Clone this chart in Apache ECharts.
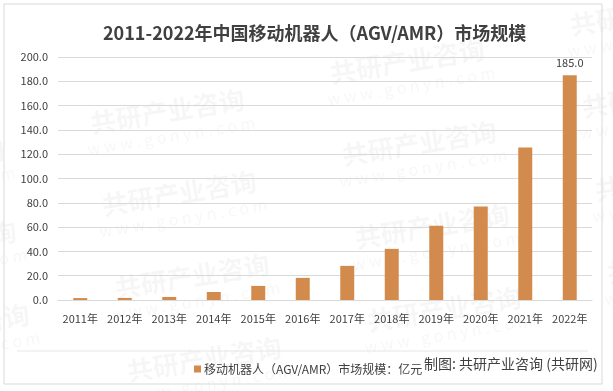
<!DOCTYPE html>
<html><head><meta charset="utf-8">
<script src="https://cdn.jsdelivr.net/npm/echarts@6/dist/echarts.min.js"></script>
<style>html,body{margin:0;padding:0;background:#fff}#c{width:613px;height:391px}</style>
</head><body><div id="c"></div>
<script>
const years = ['2011年','2012年','2013年','2014年','2015年','2016年','2017年','2018年','2019年','2020年','2021年','2022年'];
const marketSize = [1.6, 1.7, 2.5, 6.6, 11.6, 18.2, 28.1, 42.1, 61.2, 77.0, 125.5, 185.0];
const seriesName = '移动机器人（AGV/AMR）市场规模：亿元';
const titleText = '2011-2022年中国移动机器人（AGV/AMR）市场规模';
const sourceText = '制图: 共研产业咨询 (共研网)';
const watermarkText = '共研产业咨询';
const watermarkSub = 'w w w . g o n y n . c o m';

const font = '"Noto Sans CJK SC","Noto Sans",sans-serif';
const wmCenters = [[410,78],[422,160],[435,243],[447,326],[170,128],[182,210],[195,293],[207,376],[650,30],[662,112],[675,195],[687,278],[-70,178],[-58,260],[-45,343]];
const wm = [];
wmCenters.forEach(([x,y])=>{
  wm.push({type:'group',x:x,y:y,rotation:0.16,silent:true,z:-10,children:[
    {type:'text',style:{text:watermarkText,x:0,y:-4,align:'center',verticalAlign:'bottom',font:'bold 26px '+font,fill:'rgba(0,0,0,0.035)'}},
    {type:'text',style:{text:watermarkSub,x:0,y:0,align:'center',verticalAlign:'top',font:'16px '+font,fill:'rgba(0,0,0,0.035)'}}
  ]});
});

const chart = echarts.init(document.getElementById('c'), null, {renderer:'canvas'});
chart.setOption({
  animation:false,
  backgroundColor:'#fff',
  title:{text:titleText,left:98,top:19,textStyle:{fontFamily:font,fontSize:18,fontWeight:'bold',color:'#404040'}},
  grid:{left:58,right:21,top:57,bottom:91},
  legend:{show:true,left:189,top:358,itemWidth:7,itemHeight:7,itemGap:4,icon:'rect',
    textStyle:{fontFamily:font,fontSize:12,color:'#404040',padding:[0,0,0,-2]},data:[seriesName]},
  xAxis:{type:'category',data:years,
    axisLine:{lineStyle:{color:'#d9d9d9'}},axisTick:{show:false},
    axisLabel:{interval:0,fontFamily:font,fontSize:11,color:'#404040',margin:13}},
  yAxis:{type:'value',min:0,max:200,interval:20,
    axisLine:{show:false},axisTick:{show:false},
    axisLabel:{fontFamily:font,fontSize:11,color:'#404040',margin:10,formatter:v=>v.toFixed(1)},
    splitLine:{lineStyle:{color:'#d9d9d9'}}},
  series:[{name:seriesName,type:'bar',data:marketSize.map((v,i)=>i===marketSize.length-1?{value:v,label:{show:true}}:v),barWidth:14,
    itemStyle:{color:'#d38b4d'},
    label:{show:false,position:'top',distance:7,fontFamily:font,fontSize:11,color:'#404040',formatter:p=>p.value.toFixed(1)}}],
  graphic:wm.concat([
    {type:'rect',shape:{x:4,y:4,width:598,height:380},style:{fill:'none',stroke:'#d9d9d9',lineWidth:1},silent:true},
    {type:'line',shape:{x1:17,y1:351,x2:588,y2:351},style:{stroke:'#e6e6e6',lineWidth:1},silent:true},
    {type:'text',left:424,top:357,style:{text:sourceText,font:'14px '+font,fill:'#404040'}}
  ])
});
</script></body></html>
